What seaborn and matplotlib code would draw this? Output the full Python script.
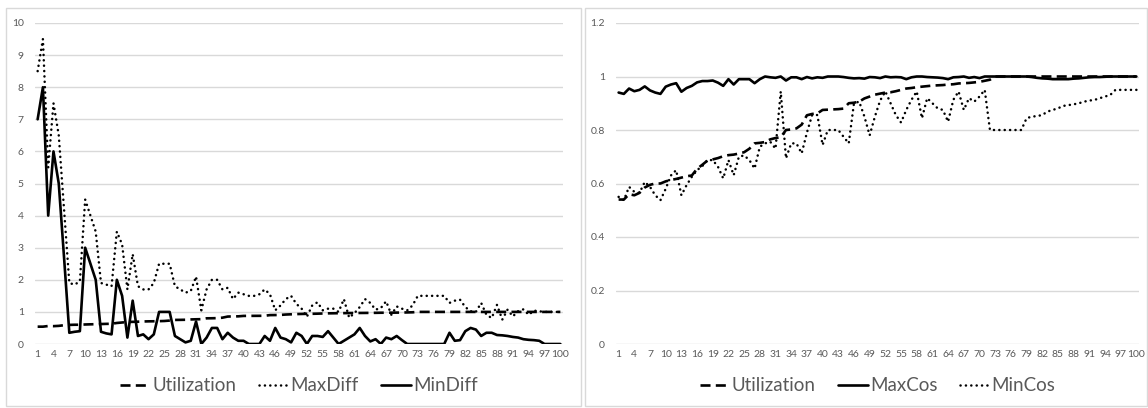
import matplotlib
matplotlib.use("Agg")
import matplotlib.pyplot as plt
import seaborn as sns
import numpy as np
from matplotlib.patches import Rectangle

sns.set_theme(style="white")
plt.rcParams['font.family'] = ['Lato', 'DejaVu Sans']

steps = list(range(1, 101))

utilization = [0.54, 0.54, 0.56, 0.556, 0.565, 0.585, 0.595, 0.6, 0.6, 0.608,
               0.613, 0.617, 0.622, 0.627, 0.63, 0.655, 0.67, 0.686, 0.69, 0.695,
               0.702, 0.706, 0.708, 0.712, 0.717, 0.73, 0.75, 0.752, 0.755, 0.765,
               0.77, 0.773, 0.8, 0.802, 0.806, 0.82, 0.855, 0.86, 0.862, 0.875,
               0.876, 0.877, 0.878, 0.88, 0.9, 0.902, 0.906, 0.918, 0.925, 0.932,
               0.936, 0.94, 0.941, 0.945, 0.95, 0.955, 0.957, 0.96, 0.962, 0.964,
               0.966, 0.967, 0.968, 0.97, 0.971, 0.974, 0.975, 0.976, 0.978, 0.98,
               0.984, 0.988, 1.0, 1.0, 1.0, 1.0, 1.0, 1.0, 1.0, 1.0,
               1.0, 1.0, 1.0, 1.0, 1.0, 1.0, 1.0, 1.0, 1.0, 1.0,
               1.0, 1.0, 1.0, 1.0, 1.0, 1.0, 1.0, 1.0, 1.0, 1.0]

max_diff = [8.5, 9.5, 5.5, 7.5, 6.5, 4.2, 1.9, 1.85, 1.95, 4.5,
            4.0, 3.5, 1.9, 1.85, 1.8, 3.5, 3.1, 1.7, 2.8, 1.8,
            1.7, 1.7, 1.9, 2.5, 2.5, 2.5, 1.8, 1.7, 1.6, 1.65,
            2.1, 1.05, 1.7, 2.0, 2.0, 1.7, 1.75, 1.4, 1.6, 1.55,
            1.5, 1.5, 1.55, 1.7, 1.55, 1.05, 1.2, 1.4, 1.5, 1.25,
            1.1, 0.85, 1.2, 1.3, 1.05, 1.1, 1.1, 1.0, 1.4, 0.82,
            0.96, 1.15, 1.4, 1.28, 1.07, 1.12, 1.33, 0.91, 1.17, 1.1,
            1.05, 1.2, 1.5, 1.5, 1.5, 1.5, 1.5, 1.5, 1.28, 1.35,
            1.38, 1.15, 1.02, 1.0, 1.28, 0.91, 0.81, 1.22, 0.76, 1.07,
            0.86, 1.02, 1.08, 0.91, 1.04, 1.02, 1.0, 1.0, 1.0, 1.0]

min_diff = [7.0, 8.0, 4.0, 6.0, 5.0, 2.7, 0.35, 0.38, 0.4, 3.0,
            2.5, 2.0, 0.38, 0.33, 0.3, 2.0, 1.5, 0.2, 1.35, 0.25,
            0.3, 0.15, 0.3, 1.0, 1.0, 1.0, 0.25, 0.15, 0.05, 0.1,
            0.7, 0.0, 0.2, 0.5, 0.5, 0.15, 0.35, 0.2, 0.1, 0.1,
            0.0, 0.0, 0.0, 0.25, 0.1, 0.5, 0.2, 0.15, 0.05, 0.35,
            0.25, 0.0, 0.25, 0.25, 0.22, 0.4, 0.2, 0.0, 0.1, 0.2,
            0.3, 0.5, 0.25, 0.08, 0.15, 0.0, 0.2, 0.15, 0.25, 0.12,
            0.0, 0.0, 0.0, 0.0, 0.0, 0.0, 0.0, 0.0, 0.35, 0.1,
            0.12, 0.4, 0.5, 0.45, 0.25, 0.35, 0.35, 0.28, 0.27, 0.25,
            0.22, 0.2, 0.15, 0.13, 0.12, 0.1, 0.0, 0.0, 0.0, 0.0]

max_cos = [0.94, 0.935, 0.955, 0.945, 0.95, 0.963, 0.948, 0.94, 0.935, 0.962,
           0.97, 0.975, 0.943, 0.957, 0.965, 0.978, 0.983, 0.983, 0.985, 0.977,
           0.965, 0.99, 0.97, 0.99, 0.99, 0.99, 0.975, 0.99, 1.0, 0.997,
           0.995, 1.0, 0.985, 0.997, 0.997, 0.99, 0.998, 0.993, 0.997, 0.995,
           1.0, 1.0, 1.0, 0.998, 0.995, 0.993, 0.994, 0.992, 0.998, 0.997,
           0.994, 1.0, 0.997, 0.998, 0.997, 0.99, 0.997, 1.0, 1.0, 0.998,
           0.997, 0.996, 0.994, 0.99, 0.997, 0.998, 1.0, 0.995, 0.998, 0.994,
           1.0, 1.0, 1.0, 1.0, 1.0, 1.0, 1.0, 1.0, 1.0, 0.998,
           0.995, 0.993, 0.992, 0.99, 0.99, 0.99, 0.99, 0.992, 0.993, 0.995,
           0.997, 0.998, 0.998, 0.999, 1.0, 1.0, 1.0, 1.0, 1.0, 1.0]

min_cos = [0.55, 0.5375, 0.5875, 0.569, 0.565, 0.606, 0.5875, 0.556, 0.5375, 0.58,
           0.63, 0.65, 0.556, 0.594, 0.625, 0.65, 0.665, 0.6875, 0.6875, 0.6625,
           0.619, 0.6875, 0.631, 0.7, 0.705, 0.6875, 0.656, 0.7375, 0.75, 0.756,
           0.73, 0.944, 0.694, 0.75, 0.75, 0.7125, 0.79, 0.856, 0.856, 0.744,
           0.8, 0.8, 0.8, 0.775, 0.75, 0.9, 0.906, 0.85, 0.78, 0.85,
           0.91, 0.944, 0.9, 0.856, 0.828, 0.875, 0.913, 0.944, 0.844, 0.919,
           0.9, 0.881, 0.875, 0.831, 0.913, 0.944, 0.875, 0.919, 0.906, 0.925,
           0.95, 0.8, 0.8, 0.8, 0.8, 0.8, 0.8, 0.8, 0.844, 0.85,
           0.852, 0.856, 0.869, 0.875, 0.881, 0.89, 0.893, 0.896, 0.9, 0.906,
           0.91, 0.9125, 0.919, 0.925, 0.931, 0.95, 0.95, 0.95, 0.95, 0.95]

xtick_labels = [str(i) for i in range(1, 101, 3)]

GREY = "#595959"
GRID = "#D9D9D9"
DASHED = dict(linestyle=(0, (3.8, 2.0)), linewidth=1.9, dash_capstyle="butt")
DOTTED = dict(linestyle=(0, (0.05, 2.1)), linewidth=1.8, dash_capstyle="round")
SOLID = dict(linestyle="-", linewidth=1.9)

fig = plt.figure(figsize=(11.48, 4.08), dpi=100)
W, H = 1148, 408

# chart-area frames
for x0, x1 in [(6, 581), (585, 1147)]:
    fig.patches.append(Rectangle((x0 / W, 2 / H), (x1 - x0) / W, 398 / H,
                                 transform=fig.transFigure, fill=False,
                                 edgecolor=GRID, linewidth=1))

ax1 = fig.add_axes([35 / W, 64 / H, 528 / W, 321 / H])
ax2 = fig.add_axes([616 / W, 64 / H, 523 / W, 321 / H])


def style_axis(ax, yticks, ylabels, ylim):
    ax.set_xlim(0.5, 100.5)
    ax.set_ylim(*ylim)
    ax.set_yticks(yticks)
    ax.set_yticklabels(ylabels)
    ax.set_xticks(list(range(1, 101, 3)))
    ax.set_xticklabels(xtick_labels)
    ax.tick_params(axis="both", length=0, colors=GREY, labelsize=7.5)
    ax.tick_params(axis="y", pad=8)
    ax.tick_params(axis="x", pad=4)
    ax.grid(axis="y", color=GRID, linewidth=1)
    ax.set_axisbelow(True)
    for s in ax.spines.values():
        s.set_visible(False)
    ax.set_xlabel("")
    ax.set_ylabel("")


sns.lineplot(x=steps, y=utilization, ax=ax1, color="black", label="Utilization", **DASHED)
sns.lineplot(x=steps, y=max_diff, ax=ax1, color="black", label="MaxDiff", **DOTTED)
sns.lineplot(x=steps, y=min_diff, ax=ax1, color="black", label="MinDiff", **SOLID)
style_axis(ax1, list(range(0, 11)), [str(v) for v in range(0, 11)], (0, 10))

sns.lineplot(x=steps, y=utilization, ax=ax2, color="black", label="Utilization", **DASHED)
sns.lineplot(x=steps, y=max_cos, ax=ax2, color="black", label="MaxCos", **SOLID)
sns.lineplot(x=steps, y=min_cos, ax=ax2, color="black", label="MinCos", **DOTTED)
style_axis(ax2, [0, 0.2, 0.4, 0.6, 0.8, 1.0, 1.2],
           ["0", "0.2", "0.4", "0.6", "0.8", "1", "1.2"], (0, 1.2))

for ax in (ax1, ax2):
    leg = ax.legend(loc="center", bbox_to_anchor=(0.5, -0.13), ncol=3, frameon=False,
                    fontsize=13.5, handlelength=1.6, handletextpad=0.1,
                    columnspacing=1.2, borderpad=0)
    for t in leg.get_texts():
        t.set_color(GREY)

fig.savefig("out.png", dpi=100, facecolor="white")
